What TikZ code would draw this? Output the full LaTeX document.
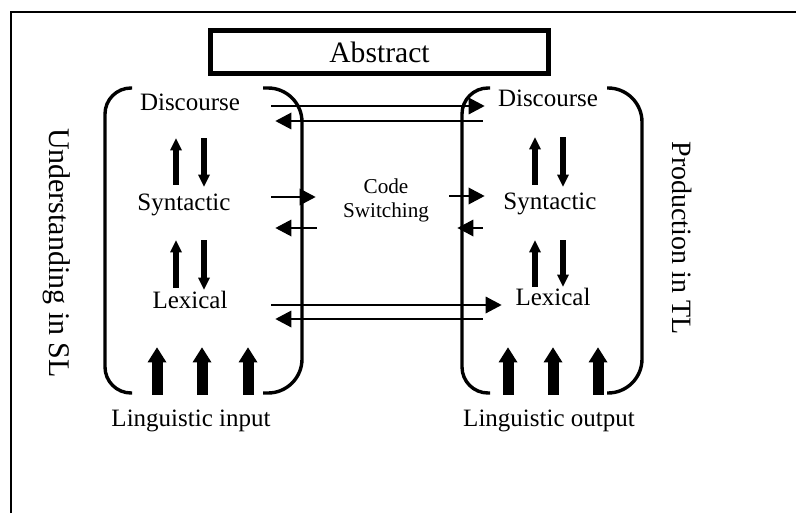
\documentclass[tikz,border=0pt]{standalone}
\usepackage{fontspec}
\setmainfont{Liberation Serif}
\usepackage{tikz}
\usetikzlibrary{arrows.meta,calc}
\tikzstyle{tsText} = [
    text=black,
    inner sep=0pt
]
\tikzstyle{tsLevel} = [
    tsText,
    font=\fontsize{12.5}{15}\selectfont,
    text height=9pt,
    text depth=3pt
]
\tikzstyle{tsSide} = [
    tsText,
    rotate=-90
]
\tikzstyle{tsBox} = [
    rectangle,
    tsText,
    draw=black,
    line width=2.5pt,
    font=\fontsize{14.8}{18}\selectfont
]
\tikzstyle{tsBracket} = [
    line width=1.7pt,
    rounded corners=13pt
]
\tikzstyle{tsWideBracket} = [
    tsBracket,
    rounded corners=17pt
]
\tikzstyle{tsFlowArrow} = [
    -{Triangle[length=8pt,width=8.5pt,line width=0pt]},
    line width=1.1pt
]
\tikzstyle{tsLevelArrow} = [
    -{Triangle[length=6pt,width=6pt,line width=0pt]},
    line width=2.8pt
]
\tikzstyle{tsInputArrow} = [
    -{Triangle[length=7.5pt,width=9.5pt,line width=0pt]},
    line width=5.5pt
]
\begin{document}
\begin{tikzpicture} [x=0.5pt, y=-0.5pt]
        \useasboundingbox (0,0) rectangle (796,513);
        \draw[line width=1.4pt] (11,513) -- (11,12) -- (796,12);

        % Define nodes
        \node[  tsBox,
                minimum width=169pt,
                minimum height=21.5pt] (ab) at (379.5,52) {Abstract};

        \node[tsLevel] (ldis) at (190,105) {Discourse};
        \node[tsLevel] (lsyn) at (184,204) {Syntactic};
        \node[tsLevel] (llex) at (190,302) {Lexical};
        \node[tsLevel] (linp) at (191,420) {Linguistic input};

        \node[tsLevel] (rdis) at (548,101) {Discourse};
        \node[tsLevel] (rsyn) at (550,203) {Syntactic};
        \node[tsLevel] (rlex) at (553,299) {Lexical};
        \node[tsLevel] (rout) at (549,420) {Linguistic output};

        \node[  tsText,
                align=center,
                font=\fontsize{10.6}{12}\selectfont] (cs) at (386,200) {Code\\Switching};

        \node[tsSide, font=\fontsize{15}{18}\selectfont] (usl) at (57,253) {Understanding in SL};
        \node[tsSide, font=\fontsize{14}{17}\selectfont] (ptl) at (682,238) {Production in TL};

        % Brackets
        \draw[tsBracket] (132,88) -- (105,88) -- (105,393) -- (132,393);
        \draw[tsWideBracket] (263,88) -- (302,88) -- (302,393) -- (263,393);
        \draw[tsBracket] (490,88) -- (462,88) -- (462,393) -- (490,393);
        \draw[tsWideBracket] (607,88) -- (642,88) -- (642,393) -- (607,393);

        % Levels, left
        \draw[tsLevelArrow, shorten <=3.5pt, shorten >=10.5pt] ($(ldis.south |- lsyn.north)+(-14,0)$) -- ($(ldis.south)+(-14,0)$);
        \draw[tsLevelArrow, shorten <=10.5pt, shorten >=2.5pt] ($(ldis.south)+(14,0)$) -- ($(ldis.south |- lsyn.north)+(14,0)$);
        \draw[tsLevelArrow, shorten <=1pt, shorten >=12pt] ($(llex.north)+(-14,0)$) -- ($(llex.north |- lsyn.south)+(-14,0)$);
        \draw[tsLevelArrow, shorten <=12pt] ($(llex.north |- lsyn.south)+(14,0)$) -- ($(llex.north)+(14,0)$);

        % Levels, right
        \draw[tsLevelArrow, shorten <=3pt, shorten >=12pt] ($(rdis.south |- rsyn.north)+(-13,0)$) -- ($(rdis.south)+(-13,0)$);
        \draw[tsLevelArrow, shorten <=12pt, shorten >=2pt] ($(rdis.south)+(15,0)$) -- ($(rdis.south |- rsyn.north)+(15,0)$);
        \draw[tsLevelArrow, shorten >=12.5pt] ($(rdis.south |- rlex.north)+(-13,0)$) -- ($(rdis.south |- rsyn.south)+(-13,0)$);
        \draw[tsLevelArrow, shorten <=12.5pt] ($(rdis.south |- rsyn.south)+(15,0)$) -- ($(rdis.south |- rlex.north)+(15,0)$);

        % Input and output
        \foreach \dx in {-34,11,57}
            \draw[tsInputArrow, shorten <=6.5pt, shorten >=16.5pt] ($(linp.north)+(\dx,0)$) -- ($(llex.south -| linp.north)+(\dx,0)$);
        \foreach \dx in {-41,4,49}
            \draw[tsInputArrow, shorten <=6.5pt, shorten >=18pt] ($(rout.north)+(\dx,0)$) -- ($(rlex.south -| rout.north)+(\dx,0)$);

        % Between SL and TL
        \draw[tsFlowArrow, shorten <=15.5pt, shorten >=6.5pt] ($(ldis.east)+(0,1)$) -- ($(ldis.east -| rdis.west)+(0,1)$);
        \draw[tsFlowArrow, shorten <=7.5pt, shorten >=17.5pt] ($(ldis.east -| rdis.west)+(0,16)$) -- ($(ldis.east)+(0,16)$);
        \draw[tsFlowArrow, shorten <=20.25pt, shorten >=13.5pt] ($(lsyn.east)+(0,-7)$) -- ($(lsyn.east -| cs.west)+(0,-7)$);
        \draw[tsFlowArrow, shorten <=13pt, shorten >=22.25pt] ($(lsyn.east -| cs.west)+(0,24)$) -- ($(lsyn.east)+(0,24)$);
        \draw[tsFlowArrow, shorten <=10pt, shorten >=9.25pt] ($(rsyn.west -| cs.east)+(0,-7)$) -- ($(rsyn.west)+(0,-7)$);
        \draw[tsFlowArrow, shorten <=10.25pt, shorten >=14pt] ($(rsyn.west)+(0,25)$) -- ($(rsyn.west -| cs.east)+(0,25)$);
        \draw[tsFlowArrow, shorten <=21.75pt, shorten >=6.75pt] ($(llex.east)+(0,3)$) -- ($(llex.east -| rlex.west)+(0,3)$);
        \draw[tsFlowArrow, shorten <=16.25pt, shorten >=23.75pt] ($(llex.east -| rlex.west)+(0,17)$) -- ($(llex.east)+(0,17)$);

    \end{tikzpicture}
\end{document}
